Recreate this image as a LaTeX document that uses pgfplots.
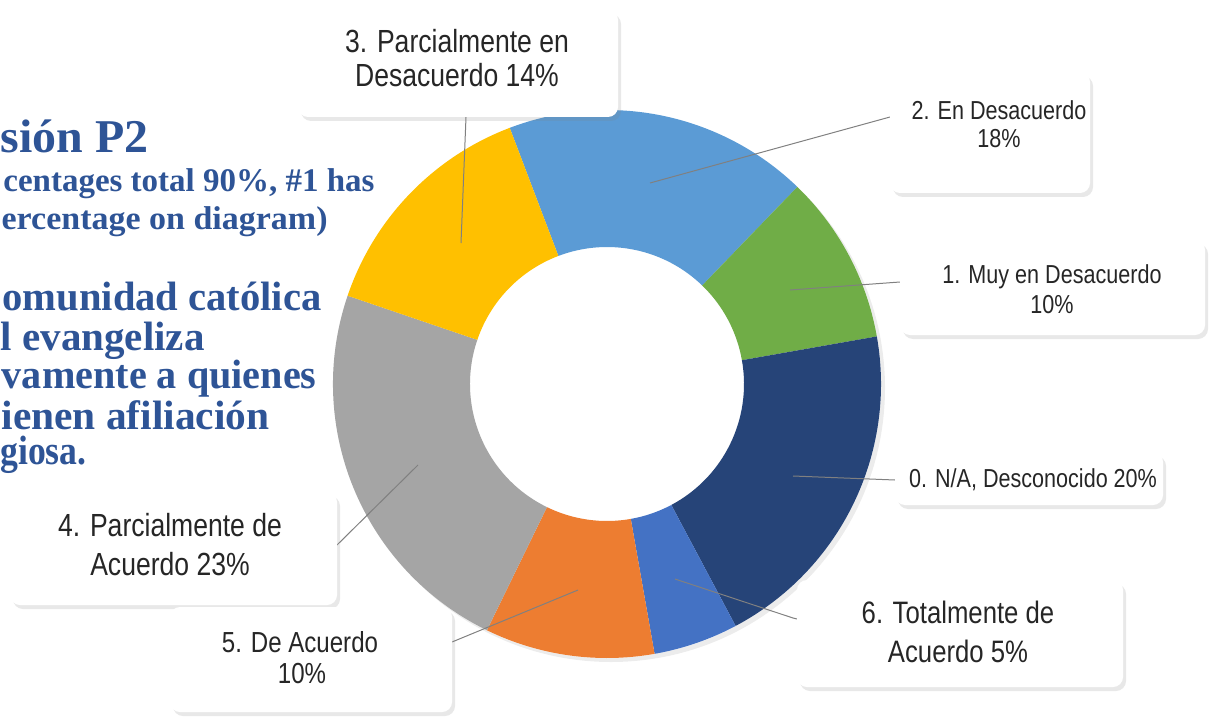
\documentclass[border=0pt]{standalone}
\usepackage{pgfplots}
\pgfplotsset{compat=1.18}
\usepackage{fontspec}
\usetikzlibrary{shadows}
\setmainfont{Liberation Serif}
\newfontfamily\lab{Liberation Sans}[FakeStretch=0.83]
\definecolor{c0}{HTML}{264478}
\definecolor{c1}{HTML}{70AD47}
\definecolor{c2}{HTML}{5B9BD5}
\definecolor{c3}{HTML}{FFC000}
\definecolor{c4}{HTML}{A5A5A5}
\definecolor{c5}{HTML}{ED7D31}
\definecolor{c6}{HTML}{4472C4}
\definecolor{ttl}{RGB}{46,84,150}
\definecolor{lead}{RGB}{128,128,128}
\definecolor{txt}{RGB}{38,38,38}
% slice: start (percent), value (percent), colour
\newcommand{\slice}[3]{%
  \pgfmathsetmacro{\aA}{110.8-3.6*#1}%
  \pgfmathsetmacro{\aB}{110.8-3.6*(#1+#2)}%
  \edef\temp{\noexpand\fill[#3] ([shift={(axis cs:607,335)}]\aA:137pt) arc[start angle=\aA, end angle=\aB, radius=137pt] -- ([shift={(axis cs:607,335)}]\aB:68.5pt) arc[start angle=\aB, end angle=\aA, radius=68.5pt] -- cycle;}%
  \temp}
\tikzset{
  lbox/.style={fill=white, rounded corners=5pt, drop shadow={opacity=0.18, shadow xshift=1.5pt, shadow yshift=-2pt}},
  big/.style={anchor=base, text=txt, font=\lab\fontsize{16pt}{18pt}\selectfont},
  mid/.style={anchor=base, text=txt, font=\lab\fontsize{15.5pt}{18pt}\selectfont},
  med/.style={anchor=base, text=txt, font=\lab\fontsize{14.5pt}{17pt}\selectfont},
  sml/.style={anchor=base, text=txt, font=\lab\fontsize{13pt}{15pt}\selectfont},
  ttlA/.style={anchor=base east, inner sep=0pt, text=ttl, font=\bfseries\fontsize{23.5pt}{26pt}\selectfont},
  ttlB/.style={anchor=base east, inner sep=0pt, text=ttl, font=\bfseries\fontsize{16.5pt}{19pt}\selectfont},
  ttlC/.style={anchor=base east, inner sep=0pt, text=ttl, font=\bfseries\fontsize{20.5pt}{23pt}\selectfont},
  ldr/.style={draw=lead, line width=0.5pt}
}
\begin{document}
\begin{tikzpicture}
\begin{axis}[hide axis, x=0.5pt, y=0.5pt, xmin=0, xmax=1209, ymin=0, ymax=719, clip=false]
\coordinate (BL) at (axis cs:0,0);
\coordinate (TR) at (axis cs:1209,719);
% background title text (cropped at the left in the original)
\node[ttlA] at (axis cs:149,567) {\scalebox{1.02}[1]{sión P2}};
\node[ttlB] at (axis cs:375,527) {\scalebox{1.0}[1]{centages total 90\%, \#1 has}};
\node[ttlB] at (axis cs:328,489) {\scalebox{1.03}[1]{ercentage on diagram)}};
\node[ttlC] at (axis cs:322,409) {\scalebox{0.99}[1]{omunidad católica}};
\node[ttlC] at (axis cs:205,369) {\scalebox{1.0}[1]{l evangeliza}};
\node[ttlC] at (axis cs:317,331) {\scalebox{0.98}[1]{vamente a quienes}};
\node[ttlC] at (axis cs:270,290) {\scalebox{1.01}[1]{ienen afiliación}};
\node[ttlC] at (axis cs:87,255) {\scalebox{0.87}[1]{giosa.}};
% donut
\fill[white, drop shadow={opacity=0.15, shadow xshift=2pt, shadow yshift=-2pt}] (axis cs:607,335) circle[radius=137pt];
\slice{0}{18}{c2}
\slice{18}{10}{c1}
\slice{28}{20}{c0}
\slice{48}{5}{c6}
\slice{53}{10}{c5}
\slice{63}{23}{c4}
\slice{86}{14}{c3}
% leader lines
\draw[ldr] (axis cs:461,476) -- (axis cs:466,602);
\draw[ldr] (axis cs:650,536) -- (axis cs:890,602);
\draw[ldr] (axis cs:790,429) -- (axis cs:900,437);
\draw[ldr] (axis cs:793,243) -- (axis cs:895,239);
\draw[ldr] (axis cs:675,140) -- (axis cs:793,101) -- (axis cs:797,100);
\draw[ldr] (axis cs:578,129) -- (axis cs:452,77);
\draw[ldr] (axis cs:418,254) -- (axis cs:337,174);
% label boxes
\path[lbox] (axis cs:298,602) rectangle (axis cs:618,709);
\path[lbox] (axis cs:890,526) rectangle (axis cs:1090,647);
\path[lbox] (axis cs:900,384) rectangle (axis cs:1205,479);
\path[lbox] (axis cs:895,214) rectangle (axis cs:1163,267);
\path[lbox] (axis cs:10,114) rectangle (axis cs:337,227);
\path[lbox] (axis cs:170,7) rectangle (axis cs:452,112);
\path[lbox] (axis cs:797,32) rectangle (axis cs:1123,139);
% label texts
\node[big] at (axis cs:457,666) {3. Parcialmente en};
\node[big] at (axis cs:457,632) {Desacuerdo 14\%};
\node[sml] at (axis cs:999,599) {2. En Desacuerdo};
\node[sml] at (axis cs:999,571) {18\%};
\node[sml] at (axis cs:1052,436) {1. Muy en Desacuerdo};
\node[sml] at (axis cs:1052,406) {10\%};
\node[sml] at (axis cs:1033,232) {0. N/A, Desconocido 20\%};
\node[big] at (axis cs:170,183) {4. Parcialmente de};
\node[big] at (axis cs:170,144) {Acuerdo 23\%};
\node[med] at (axis cs:300,67) {5. De Acuerdo};
\node[med] at (axis cs:302,36) {10\%};
\node[mid] at (axis cs:958,96) {6. Totalmente de};
\node[mid] at (axis cs:958,57) {Acuerdo 5\%};
\end{axis}
\pgfresetboundingbox
\useasboundingbox (BL) rectangle (TR);
\end{tikzpicture}
\end{document}
